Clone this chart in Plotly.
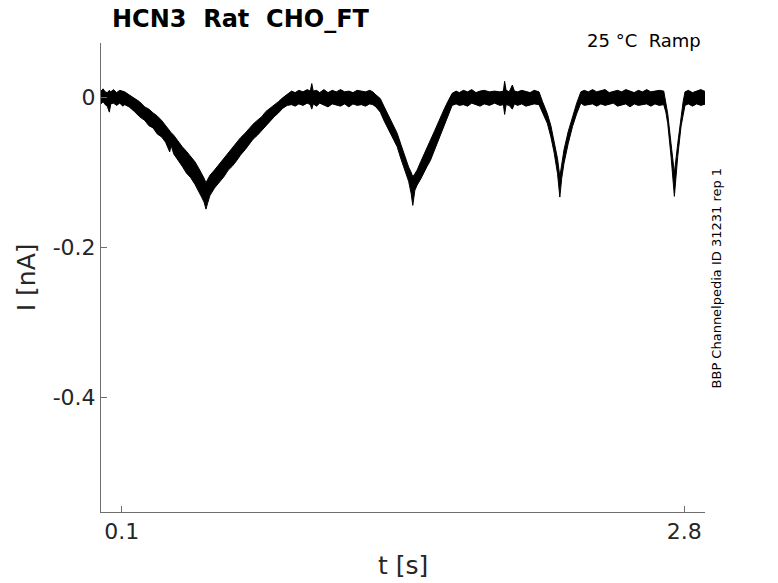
import plotly.graph_objects as go

# envelope of the noisy current trace
t_s = [0.000, 0.010, 0.020, 0.030, 0.040, 0.047, 0.060, 0.075, 0.090, 0.105,
       0.114, 0.135, 0.160, 0.185, 0.210, 0.230, 0.250, 0.270, 0.291, 0.310,
       0.330, 0.336, 0.350, 0.371, 0.390, 0.410, 0.430, 0.451, 0.468, 0.483,
       0.495, 0.504, 0.512, 0.523, 0.545, 0.565, 0.590, 0.611, 0.630, 0.650,
       0.670, 0.692, 0.710, 0.730, 0.750, 0.772, 0.792, 0.812, 0.832, 0.852,
       0.872, 0.894, 0.915, 0.932, 0.950, 0.970, 0.990, 1.005, 1.012, 1.019,
       1.035, 1.050, 1.070, 1.090, 1.110, 1.130, 1.150, 1.170, 1.190, 1.210,
       1.230, 1.250, 1.270, 1.290, 1.305, 1.320, 1.341, 1.360, 1.380, 1.400,
       1.422, 1.440, 1.460, 1.477, 1.489, 1.497, 1.507, 1.518, 1.535, 1.550,
       1.566, 1.582, 1.600, 1.615, 1.630, 1.646, 1.665, 1.686, 1.705, 1.720,
       1.740, 1.760, 1.780, 1.800, 1.820, 1.840, 1.865, 1.890, 1.915, 1.932,
       1.938, 1.945, 1.960, 1.975, 1.985, 2.000, 2.020, 2.040, 2.060, 2.080,
       2.103, 2.120, 2.143, 2.160, 2.175, 2.192, 2.203, 2.212, 2.223, 2.243,
       2.264, 2.284, 2.304, 2.320, 2.340, 2.360, 2.380, 2.400, 2.420, 2.440,
       2.460, 2.480, 2.500, 2.520, 2.540, 2.560, 2.580, 2.600, 2.620, 2.640,
       2.660, 2.680, 2.702, 2.712, 2.721, 2.737, 2.753, 2.769, 2.785, 2.795,
       2.804, 2.820, 2.840, 2.860, 2.880, 2.905]

i_upper = [0.008, 0.011, 0.007, 0.006, 0.009, 0.007, 0.010, 0.006, 0.009, 0.008,
           0.007, 0.003, -0.002, -0.006, -0.013, -0.016, -0.021, -0.025, -0.031, -0.038,
           -0.044, -0.047, -0.051, -0.059, -0.066, -0.072, -0.079, -0.086, -0.094, -0.101,
           -0.108, -0.114, -0.110, -0.104, -0.097, -0.090, -0.082, -0.075, -0.068, -0.061,
           -0.054, -0.048, -0.042, -0.036, -0.031, -0.026, -0.019, -0.015, -0.010, -0.006,
           -0.001, 0.004, 0.008, 0.006, 0.009, 0.007, 0.010, 0.008, 0.018, 0.008,
           0.009, 0.006, 0.010, 0.006, 0.009, 0.007, 0.010, 0.007, 0.008, 0.006,
           0.009, 0.008, 0.007, 0.009, 0.007, 0.003, -0.002, -0.013, -0.025, -0.036,
           -0.048, -0.063, -0.080, -0.093, -0.100, -0.106, -0.102, -0.097, -0.086, -0.076,
           -0.066, -0.057, -0.046, -0.036, -0.026, -0.017, -0.006, 0.005, 0.008, 0.006,
           0.009, 0.007, 0.010, 0.006, 0.008, 0.009, 0.007, 0.008, 0.007, 0.008,
           0.021, 0.009, 0.007, 0.016, 0.008, 0.007, 0.009, 0.008, 0.006, 0.009,
           0.007, -0.006, -0.022, -0.038, -0.057, -0.082, -0.106, -0.088, -0.070, -0.046,
           -0.026, -0.008, 0.007, 0.009, 0.007, 0.010, 0.007, 0.008, 0.010, 0.006,
           0.008, 0.009, 0.007, 0.010, 0.008, 0.006, 0.009, 0.007, 0.010, 0.007,
           0.008, 0.009, 0.008, -0.006, -0.022, -0.062, -0.101, -0.062, -0.022, -0.006,
           0.007, 0.009, 0.006, 0.008, 0.010, 0.007]

i_lower = [-0.009, -0.006, -0.010, -0.012, -0.020, -0.009, -0.008, -0.011, -0.008, -0.012,
           -0.010, -0.013, -0.019, -0.026, -0.031, -0.038, -0.041, -0.049, -0.053, -0.060,
           -0.073, -0.064, -0.076, -0.084, -0.092, -0.101, -0.107, -0.116, -0.124, -0.133,
           -0.140, -0.149, -0.141, -0.131, -0.121, -0.114, -0.106, -0.097, -0.092, -0.085,
           -0.077, -0.070, -0.063, -0.056, -0.051, -0.044, -0.038, -0.032, -0.026, -0.021,
           -0.015, -0.011, -0.010, -0.012, -0.009, -0.011, -0.008, -0.010, -0.016, -0.009,
           -0.012, -0.008, -0.011, -0.013, -0.009, -0.010, -0.012, -0.009, -0.013, -0.009,
           -0.011, -0.010, -0.012, -0.009, -0.010, -0.013, -0.020, -0.032, -0.043, -0.055,
           -0.066, -0.082, -0.099, -0.112, -0.128, -0.144, -0.124, -0.117, -0.109, -0.100,
           -0.092, -0.084, -0.071, -0.060, -0.049, -0.039, -0.024, -0.011, -0.009, -0.011,
           -0.010, -0.012, -0.008, -0.010, -0.012, -0.009, -0.011, -0.008, -0.011, -0.010,
           -0.023, -0.010, -0.011, -0.016, -0.009, -0.011, -0.009, -0.012, -0.010, -0.009,
           -0.010, -0.020, -0.035, -0.053, -0.073, -0.102, -0.133, -0.108, -0.088, -0.062,
           -0.039, -0.022, -0.008, -0.011, -0.010, -0.009, -0.012, -0.009, -0.011, -0.010,
           -0.008, -0.012, -0.010, -0.009, -0.013, -0.009, -0.011, -0.010, -0.009, -0.012,
           -0.009, -0.011, -0.010, -0.020, -0.035, -0.079, -0.132, -0.079, -0.039, -0.024,
           -0.011, -0.009, -0.012, -0.009, -0.011, -0.009]

x_ticks = [0.1, 2.8]
x_ticktext = ["0.1", "2.8"]
y_ticks = [0, -0.2, -0.4]
y_ticktext = ["0", "-0.2", "-0.4"]

FONT = "DejaVu Sans"
AXIS_COL = "#6e6e6e"
TEXT_COL = "#262626"

fig = go.Figure()
fig.add_trace(go.Scatter(x=t_s, y=i_upper, mode="lines",
                         line=dict(color="black", width=1), showlegend=False))
fig.add_trace(go.Scatter(x=t_s, y=i_lower, mode="lines", fill="tonexty",
                         fillcolor="black",
                         line=dict(color="black", width=1), showlegend=False))

axis_common = dict(showline=True, linecolor=AXIS_COL, linewidth=1,
                   ticks="inside", ticklen=6, tickcolor=AXIS_COL,
                   showgrid=False, zeroline=False, mirror=False,
                   tickfont=dict(family=FONT, size=22, color=TEXT_COL))

# the page body keeps an 8px margin, so the figure is 8px smaller each way
fig.update_layout(
    width=770, height=575,
    margin=dict(l=93, r=73, t=35, b=71),
    paper_bgcolor="white", plot_bgcolor="white",
    xaxis=dict(range=[0, 2.9], tickvals=x_ticks, ticktext=x_ticktext, **axis_common),
    yaxis=dict(range=[-0.552, 0.072], tickvals=y_ticks, ticktext=y_ticktext,
               ticklabelstandoff=0, **axis_common),
    annotations=[
        dict(text="<b>HCN3  Rat  CHO_FT</b>", xref="paper", yref="paper",
             x=0.2314, y=1.0505, xanchor="center", yanchor="middle",
             showarrow=False, font=dict(family=FONT, size=24, color="black")),
        dict(text="25 °C  Ramp", xref="paper", yref="paper",
             x=0.997, y=1.0053, xanchor="right", yanchor="middle",
             showarrow=False, font=dict(family=FONT, size=18, color="black")),
        dict(text="BBP Channelpedia ID 31231 rep 1", xref="paper", yref="paper",
             x=1.019, y=0.499, xanchor="center", yanchor="middle", textangle=-90,
             showarrow=False, font=dict(family=FONT, size=13, color="black")),
        dict(text="t [s]", xref="paper", yref="paper",
             x=0.5, y=-0.115, xanchor="center", yanchor="middle",
             showarrow=False, font=dict(family=FONT, size=25, color=TEXT_COL)),
        dict(text="I [nA]", xref="paper", yref="paper",
             x=-0.123, y=0.5, xanchor="center", yanchor="middle", textangle=-90,
             showarrow=False, font=dict(family=FONT, size=25, color=TEXT_COL)),
    ],
)

fig.write_html("out.html")
